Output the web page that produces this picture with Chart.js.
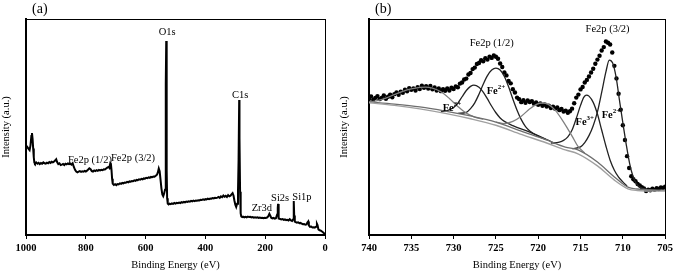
<!DOCTYPE html>
<html lang="en">
<head>
    <meta charset="UTF-8">
    <title>XPS survey and Fe2p spectra</title>
    <style>
        body { margin: 0; padding: 0; background: #fff; }
        #wrap { position: relative; width: 676px; height: 274px; }
        canvas { position: absolute; top: 0; }
        #surveyChart { left: 0; }
        #fe2pChart { left: 338px; }
    </style>
</head>
<body>
<div id="wrap">
    <canvas id="surveyChart" width="338" height="274"></canvas>
    <canvas id="fe2pChart" width="338" height="274"></canvas>
</div>
<script src="https://cdn.jsdelivr.net/npm/chart.js@4.4.0/dist/chart.umd.min.js"></script>
<script>
// ---- (a) survey spectrum ----
const surveyEnergy = [1000, 996, 992, 988, 985, 982, 980, 978, 976, 974, 972, 970, 966, 962, 958, 954, 950, 946, 942, 938, 934, 930, 926, 922, 918, 914, 910, 906, 902, 899, 896, 892, 888, 884, 880, 876, 872, 868, 864, 860, 856, 852, 848, 844, 840, 836, 832, 828, 824, 820, 816, 812, 808, 804, 800, 796, 792, 788, 784, 780, 776, 772, 768, 764, 760, 756, 752, 748, 744, 740, 736, 732, 728, 724, 721, 718, 716, 714, 712, 710, 706, 702, 698, 694, 690, 686, 682, 678, 674, 670, 666, 662, 658, 654, 650, 646, 642, 638, 634, 630, 626, 622, 618, 614, 610, 606, 602, 598, 594, 590, 586, 582, 578, 574, 570, 566, 562, 559, 556, 553, 550, 547, 544, 541, 538, 535, 533, 532, 531, 530, 529, 528, 526, 523, 520, 516, 512, 508, 504, 500, 496, 492, 488, 484, 480, 476, 472, 468, 464, 460, 456, 452, 448, 444, 440, 436, 432, 428, 424, 420, 416, 412, 408, 404, 400, 396, 392, 388, 384, 380, 376, 372, 368, 364, 360, 356, 352, 348, 344, 340, 336, 332, 328, 324, 320, 316, 312, 309, 306, 303, 300, 297, 294, 291, 289, 287, 286, 284, 282, 280, 277, 274, 270, 266, 262, 258, 254, 250, 246, 242, 238, 234, 230, 226, 222, 218, 214, 210, 206, 202, 198, 194, 190, 186, 183, 180, 176, 172, 168, 164, 160, 158, 157, 156, 154, 150, 146, 142, 138, 134, 130, 126, 122, 118, 114, 110, 107, 105, 104, 103, 101, 98, 94, 90, 86, 82, 78, 74, 70, 66, 62, 59, 56, 54, 50, 46, 42, 38, 34, 30, 27, 25, 22, 18, 14, 10, 6, 3, 0];
const surveyIntensity = [41.5, 40.8, 40.0, 39.3, 41.5, 45.8, 47.2, 44.5, 40.0, 36.0, 33.5, 33.1, 33.6, 33.0, 33.4, 32.8, 33.3, 33.0, 33.6, 33.2, 33.0, 33.5, 33.2, 33.8, 33.4, 33.9, 33.6, 34.0, 34.6, 35.1, 33.8, 32.8, 33.2, 32.4, 32.6, 32.9, 32.4, 33.0, 32.7, 33.1, 32.8, 33.0, 32.6, 33.2, 31.5, 30.2, 29.4, 29.0, 29.3, 29.6, 29.2, 29.5, 29.3, 29.7, 29.4, 29.8, 30.3, 30.9, 30.5, 29.6, 29.4, 29.9, 29.6, 30.0, 29.7, 30.1, 29.9, 30.2, 30.0, 30.4, 30.3, 30.8, 31.2, 31.5, 31.0, 33.2, 32.8, 30.0, 26.0, 23.8, 23.2, 23.5, 23.1, 23.6, 23.4, 23.9, 23.7, 24.1, 23.9, 24.3, 24.2, 24.6, 24.4, 24.8, 24.7, 25.0, 24.9, 25.3, 25.1, 25.5, 25.4, 25.8, 25.6, 26.0, 25.8, 26.2, 26.1, 26.5, 26.3, 26.7, 26.5, 26.9, 26.8, 27.1, 27.0, 27.4, 27.9, 29.0, 30.8, 29.5, 25.5, 21.5, 18.8, 18.0, 19.2, 21.0, 40.0, 70.0, 89.8, 60.0, 30.0, 17.0, 14.6, 14.2, 14.5, 14.3, 14.6, 14.4, 14.8, 14.5, 14.9, 14.7, 15.0, 14.8, 15.2, 15.0, 15.3, 15.1, 15.5, 15.3, 15.6, 15.4, 15.8, 15.6, 15.9, 15.7, 16.0, 15.9, 16.1, 16.0, 16.3, 16.2, 16.5, 16.3, 16.6, 16.5, 16.8, 16.6, 16.9, 16.8, 17.1, 16.9, 17.2, 17.1, 17.3, 17.6, 17.2, 17.9, 17.5, 18.3, 17.7, 18.1, 17.6, 18.5, 17.9, 18.2, 18.9, 19.4, 18.3, 16.0, 14.0, 13.0, 14.5, 20.0, 35.0, 62.5, 45.0, 20.0, 10.0, 8.6, 8.3, 8.5, 8.2, 8.4, 8.2, 8.5, 8.3, 8.4, 8.1, 8.3, 8.0, 8.2, 8.0, 8.2, 7.9, 8.1, 7.9, 8.0, 7.8, 8.0, 7.9, 8.1, 8.6, 9.8, 9.0, 8.0, 7.7, 7.9, 7.6, 7.8, 9.5, 12.5, 14.4, 11.0, 7.6, 7.4, 7.2, 7.4, 7.0, 7.2, 6.9, 7.0, 6.7, 7.3, 6.8, 6.5, 7.2, 12.0, 15.7, 9.0, 6.2, 6.0, 5.7, 5.9, 5.5, 5.6, 5.3, 5.0, 5.1, 4.8, 4.9, 5.8, 6.3, 4.5, 3.8, 3.9, 3.5, 3.6, 3.4, 3.8, 5.2, 4.6, 2.6, 2.2, 2.0, 1.6, 1.2, 0.8, 0.5];

const surveyPeakNames = ['O1s', 'C1s', 'Fe2p (1/2)', 'Fe2p (3/2)', 'Zr3d', 'Si2s', 'Si1p'];
const surveyPeakEnergy = [528, 284, 786, 642, 211, 150, 77];
const surveyPeakLevel = [94, 64.8, 34.7, 35.6, 12.5, 17.1, 17.6];

// ---- (b) Fe2p high resolution ----
const fe2pEnergy = [740.0, 739.75, 739.5, 739.25, 739.0, 738.75, 738.5, 738.25, 738.0, 737.75, 737.5, 737.25, 737.0, 736.75, 736.5, 736.25, 736.0, 735.75, 735.5, 735.25, 735.0, 734.75, 734.5, 734.25, 734.0, 733.75, 733.5, 733.25, 733.0, 732.75, 732.5, 732.25, 732.0, 731.75, 731.5, 731.25, 731.0, 730.75, 730.5, 730.25, 730.0, 729.75, 729.5, 729.25, 729.0, 728.75, 728.5, 728.25, 728.0, 727.75, 727.5, 727.25, 727.0, 726.75, 726.5, 726.25, 726.0, 725.75, 725.5, 725.25, 725.0, 724.75, 724.5, 724.25, 724.0, 723.75, 723.5, 723.25, 723.0, 722.75, 722.5, 722.25, 722.0, 721.75, 721.5, 721.25, 721.0, 720.75, 720.5, 720.25, 720.0, 719.75, 719.5, 719.25, 719.0, 718.75, 718.5, 718.25, 718.0, 717.75, 717.5, 717.25, 717.0, 716.75, 716.5, 716.25, 716.0, 715.75, 715.5, 715.25, 715.0, 714.75, 714.5, 714.25, 714.0, 713.75, 713.5, 713.25, 713.0, 712.75, 712.5, 712.25, 712.0, 711.75, 711.5, 711.25, 711.0, 710.75, 710.5, 710.25, 710.0, 709.75, 709.5, 709.25, 709.0, 708.75, 708.5, 708.25, 708.0, 707.75, 707.5, 707.25, 707.0, 706.75, 706.5, 706.25, 706.0, 705.75, 705.5, 705.25, 705.0];
const fe2pCounts = [63.0, 64.2, 62.6, 63.5, 64.3, 62.9, 63.4, 64.6, 63.1, 64.0, 65.0, 63.8, 65.2, 66.0, 64.9, 66.4, 65.8, 67.3, 66.5, 68.0, 67.2, 67.9, 66.9, 68.4, 67.6, 69.1, 68.2, 68.9, 67.8, 69.0, 67.5, 68.3, 66.9, 67.8, 66.6, 67.5, 66.8, 67.9, 66.9, 68.2, 67.6, 68.8, 68.4, 70.1, 70.6, 72.0, 72.4, 74.3, 75.0, 76.8, 77.5, 79.2, 79.6, 80.9, 80.4, 81.8, 81.2, 82.6, 82.0, 83.1, 82.5, 81.6, 79.4, 77.8, 75.2, 73.9, 71.3, 70.2, 67.5, 66.0, 63.6, 62.9, 61.5, 62.4, 61.2, 62.3, 61.6, 62.0, 60.8, 61.4, 60.3, 60.9, 59.8, 60.4, 59.5, 59.9, 58.8, 59.4, 58.5, 59.0, 57.8, 58.3, 57.2, 57.6, 56.6, 57.3, 58.5, 61.0, 63.6, 65.0, 67.4, 68.5, 70.6, 71.8, 73.4, 75.2, 77.0, 79.3, 81.2, 83.0, 85.4, 87.0, 89.6, 89.0, 88.2, 84.5, 78.3, 72.5, 65.4, 58.0, 50.8, 44.0, 36.5, 31.0, 27.2, 25.8, 24.9, 23.6, 22.9, 22.1, 21.6, 20.4, 21.0, 20.7, 21.4, 20.9, 21.7, 21.3, 22.0, 21.8, 22.4];

const bgEnergy = [740, 737, 734, 731, 728, 725, 722, 719, 716.8, 715.3, 713, 711, 709.4, 708.3, 706, 705];
const bgUpper = [61.6, 60.6, 59.3, 57.4, 55.1, 52.3, 48.1, 44.0, 40.7, 39.4, 33.8, 26.9, 22.2, 21.3, 20.8, 20.8];
const bgLower = [61.2, 60.0, 58.4, 56.3, 53.8, 50.8, 46.6, 42.6, 39.4, 37.6, 32.0, 25.4, 21.4, 20.6, 20.3, 20.3];

const satHighEnergy = [740, 739, 738, 737, 736, 735, 734, 733.3, 732.5, 731.5, 730.5, 729.5, 728.5, 727.5, 726.5];
const satHigh = [61.6, 62.2, 63.4, 65.0, 66.5, 67.6, 68.3, 68.5, 68.0, 66.3, 63.2, 59.5, 56.4, 54.6, 53.6];

const fe3HalfEnergy = [731.5, 730.5, 730, 729.5, 729, 728.5, 728, 727.6, 727, 726.5, 726, 725.5, 725, 724.5, 724, 723, 721, 719, 718];
const fe3Half = [57.0, 57.9, 59.0, 61.0, 64.0, 66.9, 68.8, 69.4, 68.4, 66.2, 63.0, 59.6, 56.6, 54.2, 52.6, 50.6, 47.6, 44.2, 42.3];

const fe2HalfEnergy = [729.5, 728.5, 728, 727.5, 727, 726.5, 726, 725.5, 725, 724.5, 724, 723.5, 723, 722.5, 722, 721.5, 721, 720, 719];
const fe2Half = [56.3, 56.8, 58.5, 61.2, 65.2, 69.8, 73.8, 76.4, 77.3, 76.4, 73.4, 68.6, 63.0, 57.8, 53.4, 50.2, 48.2, 45.8, 44.0];

const satLowEnergy = [725, 724, 723, 722, 721, 720.2, 719.5, 718.8, 718, 717, 716, 715.3, 714.5];
const satLow = [52.3, 51.6, 52.6, 55.0, 58.4, 60.5, 61.1, 60.5, 57.8, 52.3, 45.8, 41.0, 38.0];

const fe3MainEnergy = [718.5, 717.5, 717, 716.5, 716, 715.5, 715, 714.6, 714.3, 714, 713.5, 713, 712.5, 712, 711.5, 711, 710.5, 710, 709.5];
const fe3Main = [42.6, 43.0, 43.8, 45.4, 48.6, 54.0, 60.0, 63.8, 64.8, 64.3, 61.4, 56.0, 48.6, 41.2, 34.6, 30.0, 26.8, 24.6, 22.6];

const fe2MainEnergy = [716, 715, 714.5, 714, 713.5, 713, 712.5, 712, 711.6, 711.2, 710.8, 710.4, 710, 709.6, 709.2, 708.8, 708.4, 708, 707, 706];
const fe2Main = [40.0, 40.8, 42.8, 46.0, 50.6, 57.0, 66.0, 75.5, 81.0, 79.6, 73.2, 62.5, 52.0, 42.0, 33.2, 27.2, 23.8, 22.2, 21.1, 20.8];

const fe2pPeakNames = ['Fe2p (1/2)', 'Fe2p (3/2)', 'Fe', 'Fe', 'Fe', 'Fe'];
const fe2pPeakSups = ['', '', '3+', '2+', '3+', '2+'];
const fe2pPeakEnergy = [725.5, 711.8, 730.2, 725.0, 714.5, 711.4];
const fe2pPeakLevel = [88.9, 95.4, 58.8, 66.7, 52.3, 55.6];

const serif = "'Liberation Serif', 'Times New Roman', serif";

function pts(xs, ys) {
    return xs.map((x, i) => ({ x: x, y: ys[i] }));
}

function lineSet(xs, ys, color, width) {
    return {
        data: pts(xs, ys),
        showLine: true,
        borderColor: color,
        borderWidth: width,
        pointRadius: 0,
        cubicInterpolationMode: 'monotone'
    };
}

function labelPlugin(tag, names, sups, xs, ys) {
    return {
        id: 'peakLabels',
        afterDraw(chart) {
            const { ctx, chartArea, scales: { x, y } } = chart;
            ctx.save();
            ctx.fillStyle = '#000';
            ctx.textBaseline = 'middle';
            ctx.textAlign = 'left';
            ctx.font = '14px ' + serif;
            ctx.fillText(tag, chartArea.left + 6, 9);
            names.forEach((t, i) => {
                const px = x.getPixelForValue(xs[i]);
                const py = y.getPixelForValue(ys[i]);
                const sup = sups ? sups[i] : '';
                const mainFont = (sup ? 'bold ' : '') + '10.5px ' + serif;
                const supFont = 'bold 7px ' + serif;
                ctx.font = mainFont;
                const w1 = ctx.measureText(t).width;
                ctx.font = supFont;
                const w2 = sup ? ctx.measureText(sup).width : 0;
                const left = px - (w1 + w2) / 2;
                ctx.font = mainFont;
                ctx.fillText(t, left, py);
                if (sup) {
                    ctx.font = supFont;
                    ctx.fillText(sup, left + w1, py - 4);
                }
            });
            ctx.restore();
        }
    };
}

function baseOptions(xMin, xMax, step, yWidth, rightPad) {
    const tickFont = { family: serif, size: 10.5, weight: 700 };
    const titleFont = { family: serif, size: 10.5 };
    return {
        responsive: false,
        animation: false,
        layout: { padding: { top: 19, right: rightPad, left: 0, bottom: 0 }, autoPadding: false },
        plugins: { legend: { display: false }, tooltip: { enabled: false } },
        scales: {
            x: {
                type: 'linear', reverse: true, min: xMin, max: xMax,
                ticks: { stepSize: step, font: tickFont, color: '#000', padding: 3, maxRotation: 0,
                         callback: v => String(v) },
                grid: { display: true, drawOnChartArea: false, drawTicks: true, tickLength: 4, color: '#000', lineWidth: 1 },
                border: { display: true, color: '#000', width: 2 },
                title: { display: true, text: 'Binding Energy (eV)', font: titleFont, color: '#000', padding: { top: 0, bottom: 2 } },
                afterFit: s => { s.height = 39; }
            },
            y: {
                min: 0, max: 100,
                ticks: { display: false },
                grid: { display: false },
                border: { display: true, color: '#000', width: 2 },
                title: { display: true, text: 'Intensity (a.u.)', font: titleFont, color: '#000', padding: { top: 0, bottom: 0 } },
                afterFit: s => { s.width = yWidth; }
            },
            xTop: {
                axis: 'x', position: 'top', type: 'linear',
                ticks: { display: false },
                grid: { display: false },
                border: { display: true, color: '#000', width: 1 },
                afterFit: s => { s.height = 0; }
            },
            yRight: {
                axis: 'y', position: 'right', type: 'linear',
                ticks: { display: false },
                grid: { display: false },
                border: { display: true, color: '#000', width: 1 },
                afterFit: s => { s.width = 0; }
            }
        }
    };
}

new Chart(document.getElementById('surveyChart'), {
    type: 'scatter',
    data: {
        datasets: [{
            data: pts(surveyEnergy, surveyIntensity),
            showLine: true,
            borderColor: '#000',
            borderWidth: 2,
            pointRadius: 0,
            tension: 0
        }]
    },
    options: baseOptions(0, 1000, 200, 26, 13),
    plugins: [labelPlugin('(a)', surveyPeakNames, null, surveyPeakEnergy, surveyPeakLevel)]
});

new Chart(document.getElementById('fe2pChart'), {
    type: 'scatter',
    data: {
        datasets: [
            lineSet(bgEnergy, bgLower, '#a0a0a0', 1.4),
            lineSet(bgEnergy, bgUpper, '#6e6e6e', 1.3),
            lineSet(satHighEnergy, satHigh, '#808080', 1.3),
            lineSet(satLowEnergy, satLow, '#808080', 1.3),
            lineSet(fe3HalfEnergy, fe3Half, '#222', 1.3),
            lineSet(fe2HalfEnergy, fe2Half, '#222', 1.3),
            lineSet(fe3MainEnergy, fe3Main, '#222', 1.3),
            lineSet(fe2MainEnergy, fe2Main, '#222', 1.3),
            {
                data: pts(fe2pEnergy, fe2pCounts),
                showLine: false,
                pointRadius: 2.2,
                pointBackgroundColor: '#000',
                pointBorderWidth: 0
            }
        ]
    },
    options: baseOptions(705, 740, 5, 31, 8),
    plugins: [labelPlugin('(b)', fe2pPeakNames, fe2pPeakSups, fe2pPeakEnergy, fe2pPeakLevel)]
});
</script>
</body>
</html>
